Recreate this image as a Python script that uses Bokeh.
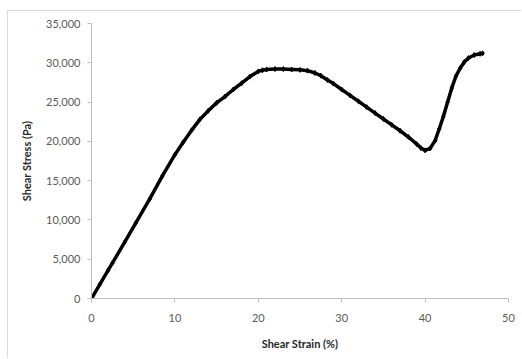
from bokeh.plotting import figure
from bokeh.models import Range1d, FixedTicker, NumeralTickFormatter
from bokeh.embed import file_html
from bokeh.resources import INLINE

# Shear strain (%) and shear stress (Pa) of the sample
strain = [0, 1, 2, 2.5, 4, 5.3, 7, 8.5, 10, 11, 12, 13, 14, 15, 16, 17, 18,
          19, 20, 20.5, 21, 22, 23, 24, 25, 25.9, 26.8, 27.5, 28.3, 29, 30, 31,
          32, 33, 34, 35, 36, 37, 38, 39, 39.5, 40, 40.6, 41.2, 41.7, 42.2,
          42.7, 43.2, 43.7, 44.2, 44.7, 45.2, 45.9, 46.6, 46.9]
stress = [0, 1800, 3600, 4500, 7200, 9600, 12700, 15600, 18300, 19900, 21400,
          22800, 23900, 24900, 25700, 26600, 27400, 28250, 28900, 29050, 29150,
          29200, 29200, 29150, 29100, 29000, 28700, 28360, 27800, 27350, 26600,
          25850, 25100, 24350, 23600, 22850, 22100, 21350, 20550, 19650, 19150,
          18850, 19100, 20100, 21600, 23200, 25000, 26800, 28300, 29300, 30100,
          30600, 31000, 31150, 31200]

x_ticks = [0, 10, 20, 30, 40, 50]
y_ticks = [0, 5000, 10000, 15000, 20000, 25000, 30000, 35000]

FONT = "Lato"
AXIS_GRAY = "#bfbfbf"

p = figure(width=514, height=348, output_backend="svg", toolbar_location=None,
           x_range=Range1d(0, 50), y_range=Range1d(0, 35000),
           min_border_left=83, min_border_right=14, min_border_top=12,
           min_border_bottom=61, margin=(10, 0, 0, 7),
           styles={"border-left": "1px solid #d9d9d9",
                   "border-top": "1px solid #d9d9d9"})
p.outline_line_color = None
p.xgrid.visible = False
p.ygrid.visible = False

p.line(strain, stress, line_color="black", line_width=3.5)
p.scatter(strain, stress, marker="diamond", size=5, color="black")

for ax in (p.xaxis[0], p.yaxis[0]):
    ax.axis_line_color = AXIS_GRAY
    ax.major_tick_line_color = AXIS_GRAY
    ax.minor_tick_line_color = None
    ax.major_tick_in = 0
    ax.major_tick_out = 4
    ax.major_label_text_font = FONT
    ax.major_label_text_font_size = "11px"
    ax.major_label_text_color = "#595959"
    ax.axis_label_text_font = FONT
    ax.axis_label_text_font_size = "11px"
    ax.axis_label_text_font_style = "bold"
    ax.axis_label_text_color = "#262626"

p.xaxis[0].ticker = FixedTicker(ticks=x_ticks)
p.yaxis[0].ticker = FixedTicker(ticks=y_ticks)
p.yaxis[0].formatter = NumeralTickFormatter(format="0,0")

p.xaxis[0].axis_label = "Shear Strain (%)"
p.yaxis[0].axis_label = "Shear Stress (Pa)"
p.xaxis[0].major_label_standoff = 11
p.xaxis[0].axis_label_standoff = 12
p.yaxis[0].major_label_standoff = 7
p.yaxis[0].axis_label_standoff = 10

open("out.html", "w").write(file_html(p, INLINE))
